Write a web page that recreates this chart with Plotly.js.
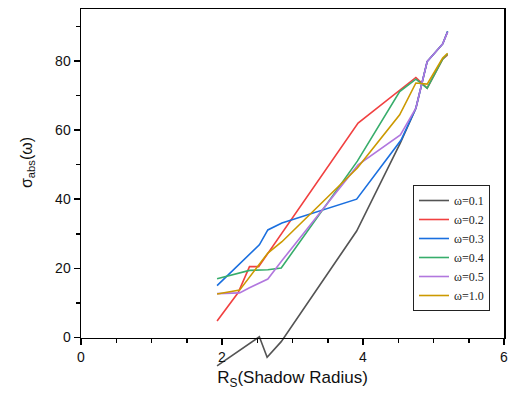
<!DOCTYPE html>
<html>
<head>
<meta charset="utf-8">
<script src="https://cdn.plot.ly/plotly-3.0.1.min.js"></script>
<style>html,body{margin:0;padding:0;background:#fff;}#chart{width:509px;height:393px;}</style>
</head>
<body>
<div id="chart"></div>
<script>
// ---- data ----
const seriesNames = ['ω=0.1', 'ω=0.2', 'ω=0.3', 'ω=0.4', 'ω=0.5', 'ω=1.0'];

const rsW01  = [1.93, 2.53, 2.64, 2.84, 3.91, 4.53, 4.75, 4.91, 5.13, 5.2];
const sigW01 = [-8.2, 0.2, -5.7, -1.2, 30.8, 56.3, 66.3, 79.8, 84.9, 88.5];

const rsW02  = [1.93, 2.23, 2.39, 2.52, 3.93, 4.52, 4.75, 4.91, 5.13, 5.2];
const sigW02 = [4.8, 13.0, 20.5, 20.5, 62.0, 71.6, 75.2, 72.1, 80.5, 81.7];

const rsW03  = [1.93, 2.25, 2.53, 2.65, 2.85, 3.91, 4.54, 4.75, 4.91, 5.13, 5.2];
const sigW03 = [15.0, 21.4, 26.8, 31.1, 33.1, 40.0, 57.1, 66.3, 79.8, 84.9, 88.5];

const rsW04  = [1.93, 2.25, 2.39, 2.65, 2.84, 3.92, 4.52, 4.75, 4.91, 5.13, 5.2];
const sigW04 = [17.0, 18.7, 19.4, 19.6, 20.1, 51.0, 71.1, 74.7, 72.1, 80.5, 82.0];

const rsW05  = [1.93, 2.25, 2.39, 2.56, 2.65, 2.84, 3.93, 4.53, 4.75, 4.91, 5.13, 5.2];
const sigW05 = [12.7, 12.9, 14.4, 15.9, 16.9, 22.0, 49.9, 58.6, 66.3, 79.8, 84.9, 88.3];

const rsW10  = [1.93, 2.25, 2.65, 2.85, 3.92, 4.52, 4.75, 4.91, 5.13, 5.2];
const sigW10 = [12.6, 13.7, 24.4, 27.7, 49.0, 64.4, 73.6, 73.3, 80.8, 82.2];

const xTickVals = [0, 2, 4, 6];
const yTickVals = [0, 20, 40, 60, 80];
const xTitle = 'R<sub>S</sub>(Shadow Radius)';
const yTitle = 'σ<sub>abs</sub>(ω)';

// ---- styles ----
const colors = ['#545454', '#F14040', '#1A6FDF', '#37AD6B', '#B177DE', '#CC9900'];
const xs = [rsW01, rsW02, rsW03, rsW04, rsW05, rsW10];
const ys = [sigW01, sigW02, sigW03, sigW04, sigW05, sigW10];

// geometry
const W = 509, H = 393;
const mL = 81, mR = 5, mT = 9, mB = 20;
const plotH = H - mT - mB;
const yZeroPx = 337.5;              // pixel row of y = 0 in the frame
const yMax = 95;
const d0 = (H - mB - yZeroPx) / plotH; // frame's bottom domain
const yMinExt = -yMax * d0 / (1 - d0); // extended range so scales match

// empty trace that only makes the frame subplot exist
const frameTrace = {
  type: 'scatter', mode: 'lines', x: [], y: [],
  xaxis: 'x2', yaxis: 'y2', showlegend: false, hoverinfo: 'skip'
};

const traces = [frameTrace].concat(xs.map((x, i) => ({
  type: 'scatter', mode: 'lines',
  x: x, y: ys[i], name: seriesNames[i],
  xaxis: 'x', yaxis: 'y',
  line: {color: colors[i], width: 1.6},
  hoverinfo: 'skip'
})));

const axFont = {family: 'Liberation Sans, Arial, sans-serif', size: 14, color: '#111'};

const layout = {
  width: W, height: H,
  margin: {l: mL, r: mR, t: mT, b: mB},
  paper_bgcolor: '#fff', plot_bgcolor: 'rgba(0,0,0,0)',
  font: axFont,
  showlegend: true,
  legend: {
    x: (413 - mL) / (W - mL - mR), xanchor: 'left',
    y: (H - mB - 185) / plotH, yanchor: 'top',
    bgcolor: '#fff', bordercolor: '#222', borderwidth: 1,
    font: {family: 'Liberation Serif, Times New Roman, serif', size: 12, color: '#222'},
    itemwidth: 30
  },
  // data axes (invisible, range extended below zero)
  xaxis: {domain: [0, 1], range: [0, 6], visible: false, anchor: 'y', fixedrange: true},
  yaxis: {domain: [0, 1], range: [yMinExt, yMax], visible: false, anchor: 'x', fixedrange: true},
  // frame axes
  xaxis2: {
    domain: [0, 1], range: [0, 6], anchor: 'y2',
    showline: true, mirror: true, linecolor: '#000', linewidth: 1.5,
    showgrid: false, zeroline: false,
    tickmode: 'array', tickvals: xTickVals,
    ticks: 'outside', ticklen: 6, tickwidth: 1.5, tickcolor: '#000',
    minor: {dtick: 0.5, tick0: 0, ticks: 'outside', ticklen: 3.5, tickwidth: 1.5, tickcolor: '#000', showgrid: false},
    tickfont: axFont,
    title: {text: xTitle, font: {family: 'Liberation Sans, Arial, sans-serif', size: 17, color: '#111'}, standoff: 7}
  },
  yaxis2: {
    domain: [d0, 1], range: [0, yMax], anchor: 'x2',
    showline: true, mirror: true, linecolor: '#000', linewidth: 1.5,
    showgrid: false, zeroline: false,
    tickmode: 'array', tickvals: yTickVals,
    ticks: 'outside', ticklen: 6, tickwidth: 1.5, tickcolor: '#000',
    minor: {dtick: 10, tick0: 0, ticks: 'outside', ticklen: 3.5, tickwidth: 1.5, tickcolor: '#000', showgrid: false},
    tickfont: axFont
  },
  annotations: [{
    text: yTitle, textangle: -90, showarrow: false,
    xref: 'paper', yref: 'paper',
    x: (27 - mL) / (W - mL - mR), y: (H - mB - 163) / plotH,
    xanchor: 'center', yanchor: 'middle',
    font: {family: 'Liberation Sans, Arial, sans-serif', size: 16, color: '#111'}
  }]
};

Plotly.newPlot('chart', traces, layout, {staticPlot: true, displayModeBar: false});
</script>
</body>
</html>
